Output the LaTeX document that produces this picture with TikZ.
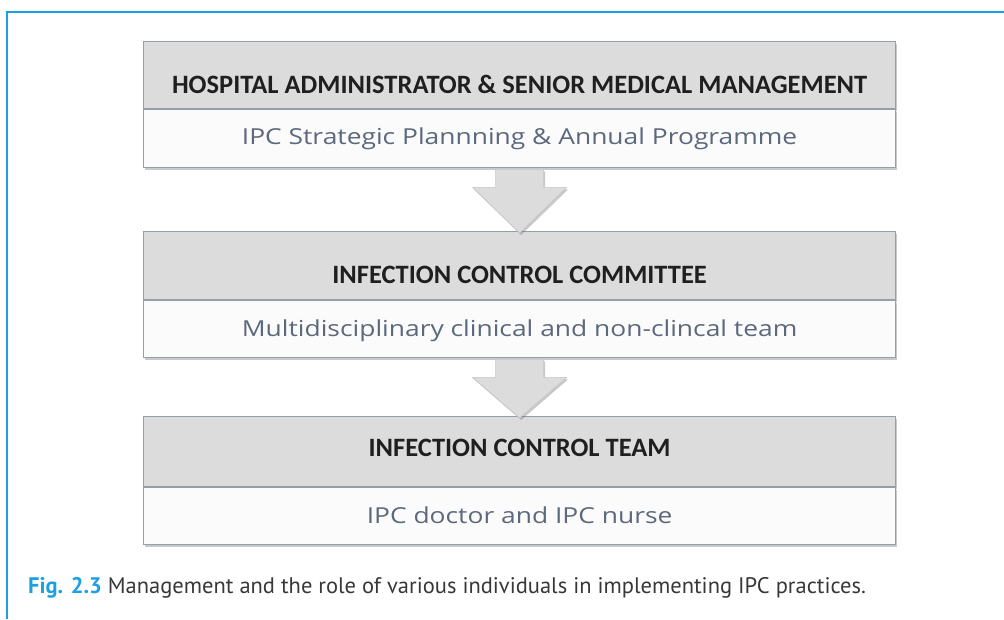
\documentclass[tikz,border=0pt]{standalone}
\usepackage{fontspec}
\setmainfont{Carlito}
\newfontfamily\bodyfont{Open Sans}[FakeStretch=1.2]
\newfontfamily\capfont{PT Sans}
\usetikzlibrary{positioning,calc,shadows}

\definecolor{ipcblue}{RGB}{27,161,226}
\definecolor{boxline}{RGB}{150,158,172}
\definecolor{headgray}{RGB}{220,220,220}
\definecolor{bodywhite}{RGB}{251,251,251}
\definecolor{bodytext}{RGB}{92,104,124}

\tikzset{
  boxshadow/.style={drop shadow={shadow xshift=1.5pt, shadow yshift=-2pt, opacity=0.35, fill=black!60}},
  headbox/.style={draw=boxline, fill=headgray, line width=1.2pt, minimum width=752, inner sep=0pt,
    font=\bfseries\fontsize{26.5}{26.5}\selectfont, text=black!88, boxshadow},
  bodybox/.style={draw=boxline, fill=bodywhite, line width=1.2pt, minimum width=752, inner sep=0pt,
    font=\bodyfont\fontsize{22}{22}\selectfont, text=bodytext, boxshadow},
  flowarrow/.style={fill=headgray, draw=gray!45, line width=0.6pt, boxshadow}
}

\begin{document}
\begin{tikzpicture}[x=1pt, y=-1pt]
    \useasboundingbox (0,0) rectangle (1004,619);
    \fill[white] (0,0) rectangle (1004,619);
    \draw[ipcblue, line width=2pt] (7,619) -- (7,12) -- (1004,12);

    % boxes
    \node[headbox, text height=52pt, text depth=15pt, anchor=north west] (admin) at (143,41) {HOSPITAL ADMINISTRATOR \& SENIOR MEDICAL MANAGEMENT};
    \node[bodybox, text height=35pt, text depth=23pt, below=0pt of admin] (plan) {IPC Strategic Plannning \& Annual Programme};

    \node[headbox, text height=52pt, text depth=16pt, anchor=north west] (committee) at (143,231) {INFECTION CONTROL COMMITTEE};
    \node[bodybox, text height=36pt, text depth=21pt, below=0pt of committee] (multi) {Multidisciplinary clinical and non-clincal team};

    \node[headbox, text height=40pt, text depth=30pt, anchor=north west] (team) at (143,416) {INFECTION CONTROL TEAM};
    \node[bodybox, text height=36pt, text depth=21pt, below=0pt of team] (nurse) {IPC doctor and IPC nurse};

    % block arrows
    \foreach \src/\dst in {plan/committee, multi/team}
        \path[flowarrow] ($(\src.south)+(-24,1)$) -- ($(\src.south)+(-24,19)$) -- ($(\src.south)+(-47,19)$)
            -- ($(\dst.north)+(0,2)$) -- ($(\src.south)+(47,19)$) -- ($(\src.south)+(24,19)$)
            -- ($(\src.south)+(24,1)$) -- cycle;

    % caption
    \node[anchor=base west, inner sep=0pt, font=\capfont\fontsize{22.5}{22.5}\selectfont, text=black!78] (caption) at (28,593)
        {\textcolor{ipcblue}{\bfseries Fig. 2.3} Management and the role of various individuals in implementing IPC practices.};
\end{tikzpicture}
\end{document}
